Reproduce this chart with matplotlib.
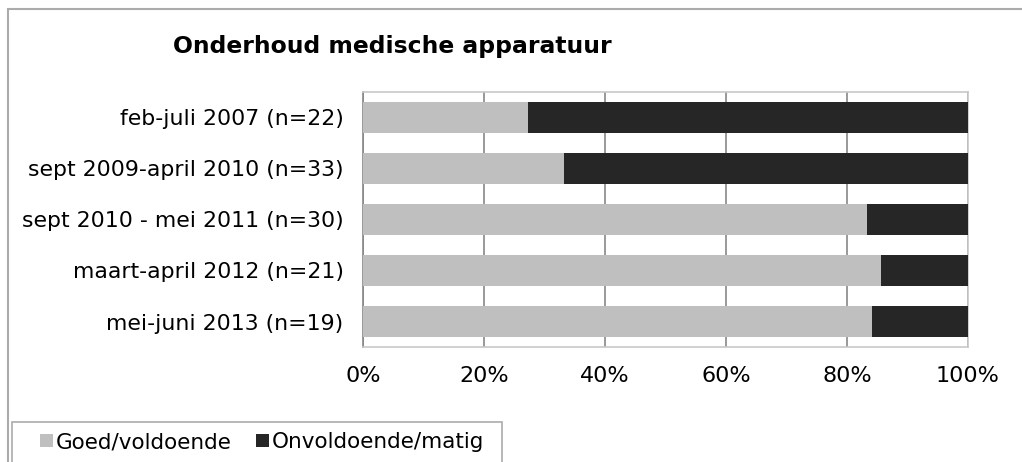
import matplotlib
matplotlib.use("Agg")
import matplotlib.pyplot as plt
from matplotlib.patches import Rectangle, Patch

categories = ["feb-juli 2007 (n=22)", "sept 2009-april 2010 (n=33)",
              "sept 2010 - mei 2011 (n=30)", "maart-april 2012 (n=21)",
              "mei-juni 2013 (n=19)"]
goed = [27.3, 33.3, 83.3, 85.7, 84.2]
onvoldoende = [72.7, 66.7, 16.7, 14.3, 15.8]
series_names = ["Goed/voldoende", "Onvoldoende/matig"]
xticks = [0, 20, 40, 60, 80, 100]
xticklabels = ["0%", "20%", "40%", "60%", "80%", "100%"]
title = "Onderhoud medische apparatuur"

W, H = 1022, 462
fig = plt.figure(figsize=(W/100, H/100), dpi=100)
plt.rcParams['font.family'] = ['DejaVu Sans']

# outer frame
fig.patches.append(Rectangle((8/W, -0.1), 1.2, (H-9)/H + 0.1, transform=fig.transFigure,
                             fill=False, edgecolor="#ABABAB", linewidth=1.5))

L, R, T, B = 363, 968, 92, 347
ax = fig.add_axes([L/W, (H-B)/H, (R-L)/W, (B-T)/H])
y = range(len(categories))
c1, c2 = "#BFBFBF", "#262626"
ax.barh(y, goed, height=0.59, color=c1, zorder=3)
ax.barh(y, onvoldoende, left=goed, height=0.59, color=c2, zorder=3)
ax.set_ylim(len(categories)-0.5, -0.5)
ax.set_xlim(0, 100)
ax.set_yticks(list(y))
ax.set_yticklabels(categories, fontsize=15.8)
ax.set_xticks(xticks)
ax.set_xticklabels(xticklabels, fontsize=16)
ax.tick_params(axis='y', length=0, pad=14)
ax.tick_params(axis='x', length=0, pad=14)
ax.xaxis.grid(True, color="#878787", linewidth=1.2, zorder=1)
for s in ["top", "right", "bottom"]:
    ax.spines[s].set_color("#C8C8C8")
    ax.spines[s].set_linewidth(1.2)
ax.spines["left"].set_color("#878787")
ax.spines["left"].set_linewidth(1.2)

fig.text(173/W, 1-46/H, title, fontsize=16.9, fontweight="bold", va="center", ha="left")

# legend box
fig.patches.append(Rectangle((12/W, -0.1), 490/W, (H-422)/H + 0.1, transform=fig.transFigure,
                             fill=False, edgecolor="#ABABAB", linewidth=1.2))
handles = [Patch(facecolor=c1, edgecolor='none'), Patch(facecolor=c2, edgecolor='none')]
fig.legend(handles, series_names, loc="center left", bbox_to_anchor=(40/W, 1-442/H),
           ncol=2, frameon=False, fontsize=15.5, handlelength=0.6, handleheight=0.6,
           handletextpad=0.15, columnspacing=1.1, borderpad=0, borderaxespad=0)

fig.savefig("out.png", dpi=100)
